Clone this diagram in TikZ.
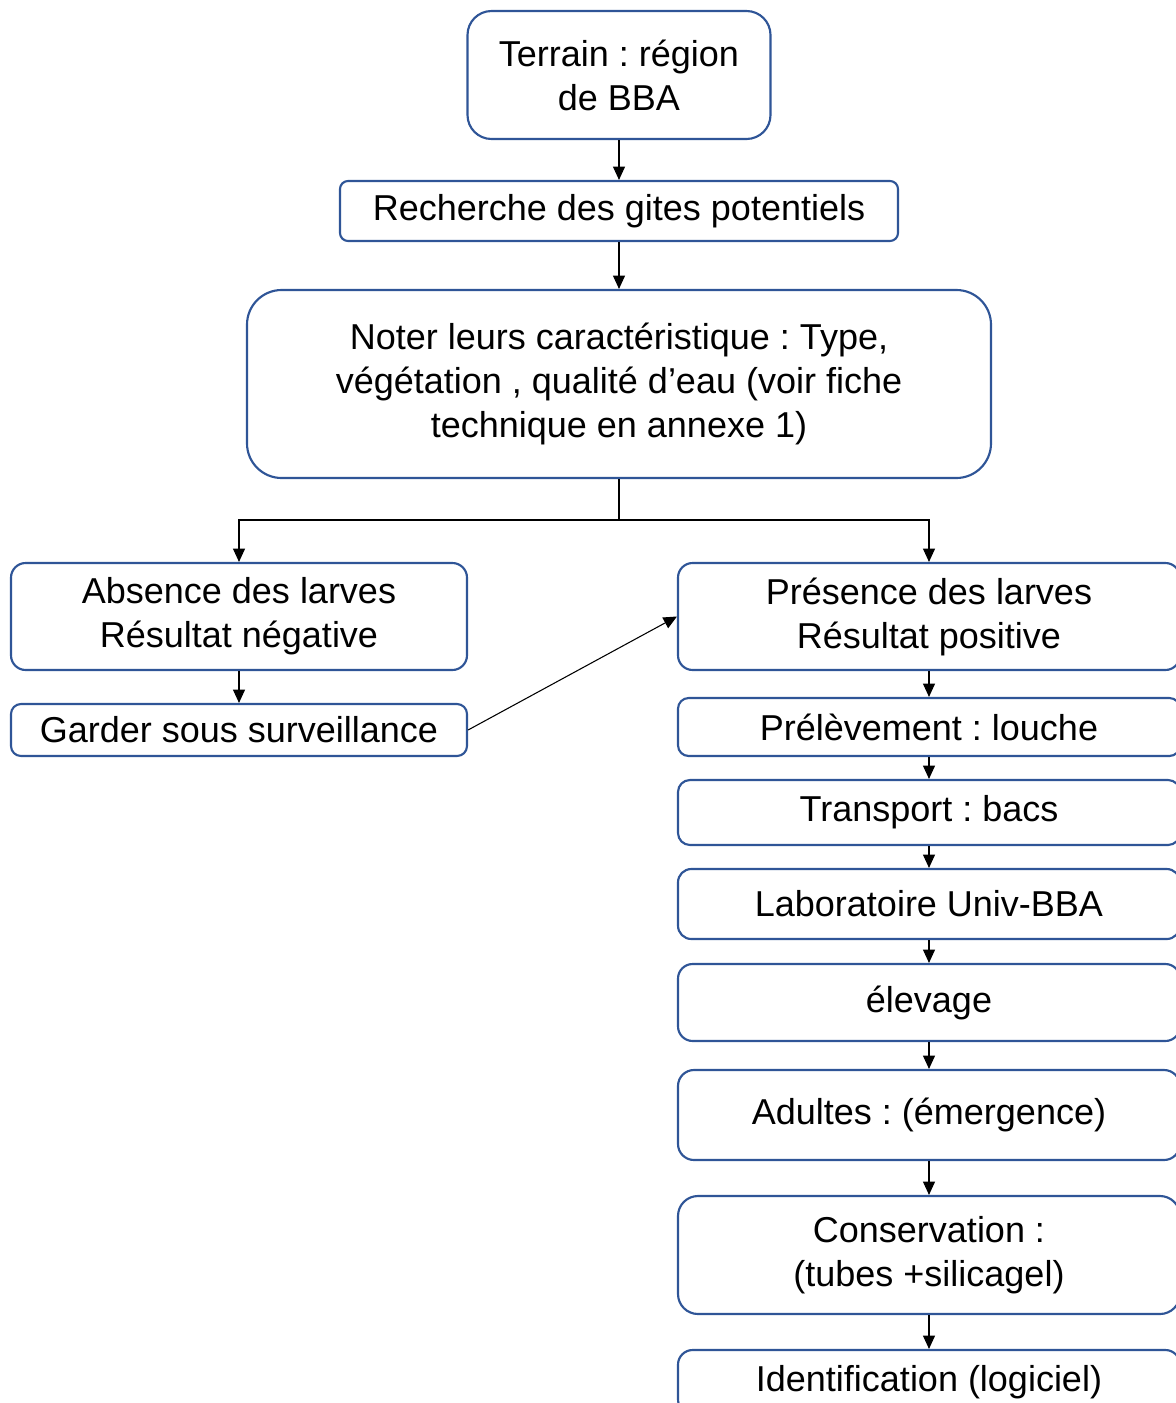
\documentclass[tikz,border=0pt]{standalone}
\usepackage{fontspec}
\setmainfont{Liberation Sans}
\usetikzlibrary{arrows.meta}
\definecolor{boxblue}{HTML}{2F5597}
\frenchspacing
\tikzset{
  box/.style={draw=boxblue, line width=1.6pt, fill=white, align=center, inner sep=0pt,
    font=\fontsize{27}{33}\selectfont\frenchspacing},
  conn/.style={draw=black, line width=0.8pt, -{Triangle[length=10pt,width=9pt]}},
}
\begin{document}
\begin{tikzpicture}[x=0.75pt,y=-0.75pt]
\useasboundingbox (0,0) rectangle (1175,1403);
\node[box, minimum width=227.25pt, minimum height=96pt, rounded corners=18pt] (terrain) at (619,75) {Terrain : région\\de BBA};
\node[box, minimum width=418.5pt, minimum height=45pt, rounded corners=6pt] (rech) at (619,211) {Recherche des gites potentiels};
\node[box, minimum width=558pt, minimum height=141pt, rounded corners=26pt] (noter) at (619,384) {Noter leurs caractéristique : Type,\\végétation , qualité d’eau (voir fiche\\technique en annexe 1)};
\node[box, minimum width=342pt, minimum height=80.25pt, rounded corners=11pt] (abs) at (239,616.5) {Absence des larves\\Résultat négative};
\node[box, minimum width=342pt, minimum height=39pt, rounded corners=7.5pt] (garder) at (239,730) {Garder sous surveillance};
\node[box, minimum width=376.5pt, minimum height=80.25pt, rounded corners=11pt] (pres) at (929,616.5) {Présence des larves\\Résultat positive};
\node[box, minimum width=376.5pt, minimum height=43.5pt, rounded corners=8pt] (prel) at (929,727) {Prélèvement : louche};
\node[box, minimum width=376.5pt, minimum height=48.75pt, rounded corners=9pt] (transp) at (929,812.5) {Transport : bacs};
\node[box, minimum width=376.5pt, minimum height=52.5pt, rounded corners=10pt] (labo) at (929,904) {Laboratoire Univ-BBA};
\node[box, minimum width=376.5pt, minimum height=57.75pt, rounded corners=11pt] (elev) at (929,1002.5) {élevage};
\node[box, minimum width=376.5pt, minimum height=67.5pt, rounded corners=12pt] (adult) at (929,1115) {Adultes : (émergence)};
\node[box, minimum width=376.5pt, minimum height=88.5pt, rounded corners=15pt] (conserv) at (929,1255) {Conservation :\\(tubes +silicagel)};
\node[box, minimum width=376.5pt, minimum height=48pt, rounded corners=11pt] (ident) at (929,1382) {Identification (logiciel)};
\coordinate (split) at (619,520);
\draw[conn] (terrain) -- (rech);
\draw[conn] (rech) -- (noter);
\draw[line width=0.8pt] (noter.south) -- (split);
\draw[conn] (split) -| (abs.north);
\draw[conn] (split) -| (pres.north);
\draw[conn] (abs) -- (garder);
\draw[conn] (garder.east) -- (pres.west);
\draw[conn] (pres) -- (prel);
\draw[conn] (prel) -- (transp);
\draw[conn] (transp) -- (labo);
\draw[conn] (labo) -- (elev);
\draw[conn] (elev) -- (adult);
\draw[conn] (adult) -- (conserv);
\draw[conn] (conserv) -- (ident);
\end{tikzpicture}
\end{document}
